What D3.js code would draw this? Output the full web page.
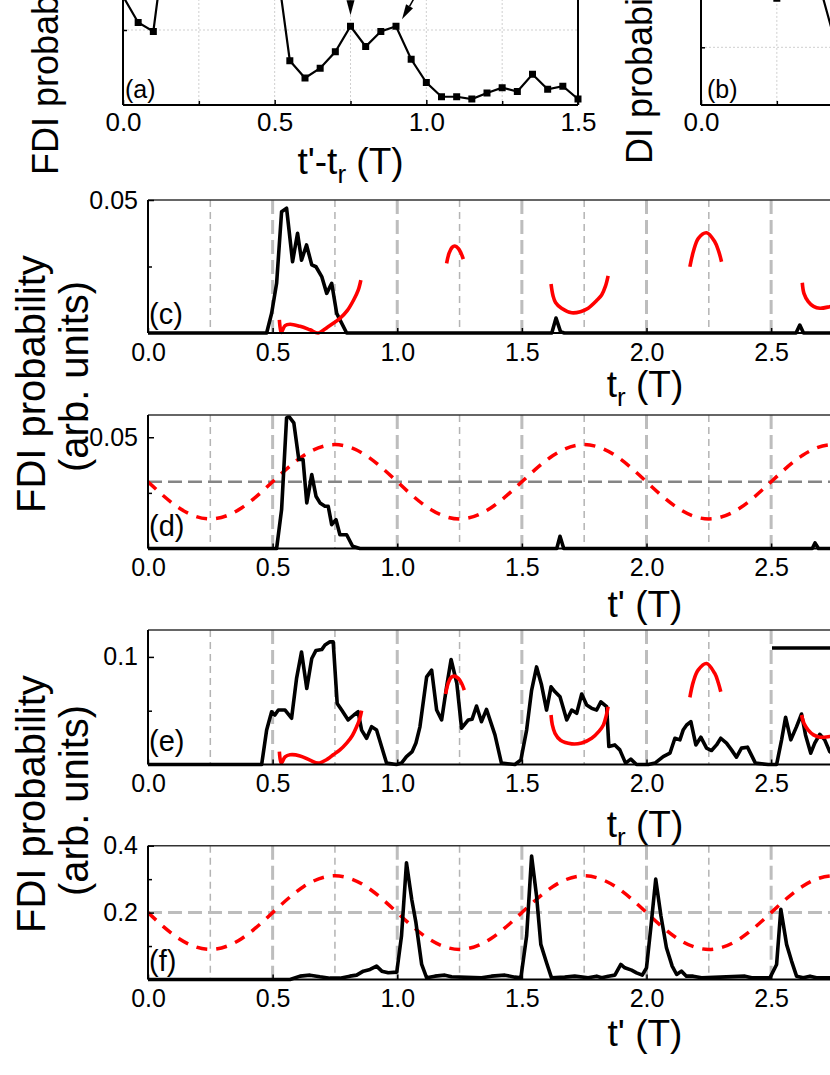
<!DOCTYPE html>
<html><head><meta charset="utf-8">
<script src="https://cdnjs.cloudflare.com/ajax/libs/d3/7.8.5/d3.min.js"></script>
<style>body{margin:0;background:#fff}svg{display:block}</style>
</head><body><script>
// ---------- DATA ----------
// panel (a): FDI probability vs t'-t_r
const aT = [0,0.05,0.1,0.15,0.2,0.25,0.3,0.35,0.4,0.45,0.5,0.55,0.6,0.65,0.7,0.75,0.8,0.85,0.9,0.95,1.0,1.05,1.1,1.15,1.2,1.25,1.3,1.35,1.4,1.45,1.5];
const aV = [0.0145,0.0110,0.0098,0.0253,0.032,0.036,0.038,0.036,0.031,0.026,0.0208,0.0059,0.0036,0.0049,0.0071,0.0105,0.0078,0.0098,0.0105,0.0061,0.0030,0.0011,0.0011,0.0008,0.0016,0.0023,0.0018,0.0041,0.0021,0.0025,0.0008];
// panel (b): DI probability (visible part only)
const bT = [0,0.05,0.1,0.15,0.2,0.25,0.3,0.35,0.4,0.45];
const bV = [0.25,0.24,0.23,0.22,0.20,0.185,0.20,0.21,0.19,0.095];
const xTickLabelsTop = [0,0.5,1.0,1.5];
const xTickLabelsBottom = [0,0.5,1.0,1.5,2.0,2.5,3.0,3.5];

// panel (c): black curve and red arcs (vs t_r)
const cBlack = [[0,0],[0.476,0],[0.496,0.0074],[0.516,0.0187],[0.536,0.0456],[0.556,0.0469],[0.580,0.0268],[0.600,0.0375],[0.616,0.0274],[0.636,0.0331],[0.657,0.0256],[0.674,0.0249],[0.697,0.0212],[0.717,0.0149],[0.737,0.0187],[0.757,0.0074],[0.797,0],[1.62,0],[1.637,0.0056],[1.655,0.0005],[1.67,0],[2.60,0],[2.615,0.003],[2.63,0],[2.8,0]];
const cRed = [
 [[0.527,0.0049],[0.531,0.0015],[0.535,0.0002],[0.55,0.0028],[0.57,0.0033],[0.61,0.0025],[0.65,0.0012],[0.683,0.0],[0.72,0.0022],[0.77,0.0055],[0.80,0.0085],[0.825,0.0124],[0.843,0.016],[0.854,0.0199]],
 [[1.198,0.0262],[1.208,0.0300],[1.22,0.0322],[1.231,0.0327],[1.245,0.0318],[1.256,0.0300],[1.265,0.0278]],
 [[1.617,0.0184],[1.625,0.0140],[1.635,0.0115],[1.659,0.0093],[1.70,0.0076],[1.735,0.0080],[1.766,0.0093],[1.80,0.0122],[1.82,0.0143],[1.835,0.0175],[1.846,0.0215]],
 [[2.174,0.0249],[2.188,0.0306],[2.208,0.0356],[2.241,0.0377],[2.274,0.0343],[2.290,0.0306],[2.301,0.0268]],
 [[2.625,0.0189],[2.632,0.0148],[2.649,0.0118],[2.67,0.0100],[2.696,0.0093],[2.735,0.0099],[2.76,0.0105]]
];
// panel (d): black curve (vs t'), laser field (red dashed), reference level
const dBlack = [[0,0],[0.516,0],[0.536,0.0175],[0.556,0.0587],[0.565,0.0594],[0.585,0.0565],[0.605,0.040],[0.622,0.040],[0.637,0.0205],[0.657,0.0332],[0.674,0.0235],[0.690,0.0205],[0.710,0.0190],[0.723,0.0190],[0.737,0.0107],[0.754,0.013],[0.770,0.0062],[0.797,0.0062],[0.821,0.001],[0.850,0],[1.64,0],[1.653,0.0055],[1.668,0],[2.665,0],[2.676,0.0025],[2.69,0],[2.8,0]];
const fieldT = [0,0.125,0.25,0.375,0.5,0.625,0.75,0.875,1.0,1.125,1.25,1.375,1.5,1.625,1.75,1.875,2.0,2.125,2.25,2.375,2.5,2.625,2.75,2.875,3.0];
const dField = [0.030,0.0182,0.0133,0.0182,0.030,0.0418,0.0467,0.0418,0.030,0.0182,0.0133,0.0182,0.030,0.0418,0.0467,0.0418,0.030,0.0182,0.0133,0.0182,0.030,0.0418,0.0467,0.0418,0.030];
const dRef = 0.03;
// panel (e)
const eBlack = [[0,0],[0.456,0],[0.476,0.032],[0.496,0.049],[0.509,0.046],[0.523,0.0506],[0.550,0.0506],[0.576,0.043],[0.596,0.080],[0.616,0.1046],[0.637,0.0707],[0.657,0.0985],[0.674,0.106],[0.697,0.1068],[0.710,0.111],[0.730,0.114],[0.743,0.114],[0.759,0.0568],[0.777,0.0506],[0.803,0.0414],[0.826,0.046],[0.843,0.049],[0.857,0.032],[0.877,0.0244],[0.897,0.0352],[0.917,0.032],[0.957,0.0013],[0.997,0],[1.017,0.0013],[1.037,0.0074],[1.060,0.012],[1.075,0.020],[1.091,0.035],[1.118,0.0815],[1.138,0.0877],[1.158,0.0506],[1.178,0.0414],[1.198,0.0722],[1.216,0.0976],[1.239,0.0754],[1.258,0.0337],[1.285,0.0414],[1.300,0.0420],[1.318,0.0543],[1.338,0.0398],[1.358,0.0513],[1.392,0.0275],[1.418,0.0013],[1.472,0],[1.496,0.0043],[1.519,0.032],[1.539,0.069],[1.559,0.0907],[1.579,0.0738],[1.599,0.0506],[1.617,0.0722],[1.633,0.0676],[1.653,0.063],[1.680,0.0414],[1.700,0.0506],[1.720,0.0476],[1.740,0.0655],[1.760,0.0553],[1.780,0.0522],[1.800,0.0506],[1.817,0.0583],[1.840,0.0537],[1.849,0.0167],[1.873,0.0182],[1.893,0.0136],[1.916,0.0013],[1.937,0.005],[1.960,0],[2.007,0],[2.034,0.0013],[2.067,0.0074],[2.094,0.0105],[2.114,0.0244],[2.134,0.0229],[2.147,0.032],[2.161,0.0367],[2.178,0.0398],[2.198,0.0182],[2.218,0.0254],[2.241,0.0152],[2.261,0.013],[2.281,0.0182],[2.298,0.0244],[2.321,0.0198],[2.341,0.0136],[2.361,0.0068],[2.381,0.0152],[2.405,0.0161],[2.437,0.0013],[2.488,0],[2.522,0],[2.542,0.0229],[2.558,0.0439],[2.579,0.0229],[2.602,0.0352],[2.622,0.0469],[2.638,0.0275],[2.659,0.0105],[2.675,0.0198],[2.695,0.0281],[2.715,0.0229],[2.735,0.012],[2.76,0.008]];
const eRed = [
 [[0.527,0.012],[0.531,0.004],[0.535,0.0013],[0.55,0.007],[0.57,0.009],[0.61,0.008],[0.65,0.004],[0.683,0.0013],[0.72,0.005],[0.743,0.009],[0.77,0.0135],[0.797,0.0198],[0.82,0.027],[0.837,0.035],[0.850,0.043],[0.857,0.050]],
 [[1.194,0.0655],[1.205,0.0760],[1.216,0.0810],[1.229,0.0821],[1.245,0.0800],[1.258,0.0755],[1.269,0.0692]],
 [[1.617,0.046],[1.622,0.037],[1.633,0.029],[1.655,0.0225],[1.70,0.0192],[1.74,0.0200],[1.78,0.0244],[1.81,0.031],[1.827,0.0367],[1.838,0.045],[1.846,0.0537]],
 [[2.174,0.0624],[2.188,0.0770],[2.207,0.0877],[2.241,0.0939],[2.274,0.0846],[2.288,0.0760],[2.298,0.0676]],
 [[2.622,0.046],[2.632,0.038],[2.649,0.032],[2.67,0.0275],[2.695,0.0254],[2.735,0.026],[2.76,0.027]]
];
// panel (f)
const fBlack = [[0,0],[0.57,0],[0.610,0.010],[0.650,0.013],[0.690,0.008],[0.730,0.004],[0.770,0.004],[0.810,0.010],[0.837,0.013],[0.864,0.025],[0.891,0.030],[0.917,0.040],[0.938,0.025],[0.964,0.020],[0.998,0.022],[1.017,0.13],[1.037,0.349],[1.058,0.24],[1.075,0.17],[1.098,0.045],[1.118,0.005],[1.151,0.010],[1.191,0.013],[1.218,0.008],[1.338,0.005],[1.378,0.010],[1.432,0.013],[1.472,0.007],[1.496,0.005],[1.519,0.13],[1.539,0.369],[1.559,0.249],[1.576,0.105],[1.599,0.05],[1.619,0.005],[1.672,0.007],[1.712,0.010],[1.766,0.005],[1.800,0.010],[1.820,0.005],[1.847,0.010],[1.873,0.013],[1.897,0.045],[1.913,0.035],[1.940,0.028],[1.960,0.020],[1.983,0.013],[2.000,0.035],[2.018,0.16],[2.037,0.30],[2.058,0.19],[2.080,0.095],[2.103,0.040],[2.121,0.015],[2.140,0.025],[2.160,0.010],[2.187,0.010],[2.221,0.005],[2.395,0.010],[2.422,0.005],[2.495,0.005],[2.522,0.045],[2.539,0.21],[2.562,0.105],[2.582,0.055],[2.602,0.010],[2.629,0.005],[2.656,0.010],[2.682,0.005],[2.76,0.005]];
const fField = [0.20,0.122,0.09,0.122,0.20,0.278,0.31,0.278,0.20,0.122,0.09,0.122,0.20,0.278,0.31,0.278,0.20,0.122,0.09,0.122,0.20,0.278,0.31,0.278,0.20];
const fRef = 0.2;

// ---------- DRAW ----------
const FONT = '"Liberation Sans", Arial, Helvetica, sans-serif';
const VIEW_W = 830;
const svg = d3.select("body").append("svg").attr("width",830).attr("height",1075)
  .style("font-family",FONT);
const defs = svg.append("defs");

function styleAxis(g, fs){
  g.select(".domain").remove();
  g.selectAll("text").attr("font-size",fs).attr("font-family",FONT).attr("fill","#000");
  g.selectAll("line").attr("stroke","#000").attr("stroke-width",1.5);
}
// keep only tick labels that fall inside the (cropped) view
const inView = (scale, vals, half) => vals.filter(v => scale(v) + half <= VIEW_W);

// ===== panels (a) and (b) =====
const xa = d3.scaleLinear().domain([0,1.5]).range([123,578]);
const ya = d3.scaleLinear().domain([0,0.01]).range([105,30]);
const xb = d3.scaleLinear().domain([0,1.5]).range([701,1156]);
const yb = d3.scaleLinear().domain([0,0.1]).range([105,47.3]);
const gridA = [0.25,0.5,0.75,1.0,1.25];
const minorA = [0.25,0.75,1.25];

function topPanel(x, y, yMax, T, V, yGrid, label, labDx, ylabel, ylabX, ylabY){
  const g = svg.append("g");
  const x0 = x.range()[0], x1 = x.range()[1], yb0 = y(0), yt = y(yMax);
  g.selectAll(".vg").data(gridA).join("line")
    .attr("x1",d=>x(d)).attr("x2",d=>x(d)).attr("y1",yt).attr("y2",yb0)
    .attr("stroke","#cfcfcf").attr("stroke-width",1).attr("stroke-dasharray","2,2");
  g.selectAll(".hg").data(yGrid).join("line")
    .attr("x1",x0).attr("x2",x1).attr("y1",d=>y(d)).attr("y2",d=>y(d))
    .attr("stroke","#cfcfcf").attr("stroke-width",1).attr("stroke-dasharray","2,2");
  const pts = T.map((t,i)=>[t,V[i]]);
  g.append("path").datum(pts)
    .attr("d",d3.line().x(d=>x(d[0])).y(d=>y(d[1])))
    .attr("fill","none").attr("stroke","#000").attr("stroke-width",2.2);
  g.selectAll(".mk").data(pts).join("rect")
    .attr("x",d=>x(d[0])-3.5).attr("y",d=>y(d[1])-3.5).attr("width",7).attr("height",7).attr("fill","#000");
  // axes frame
  g.append("line").attr("x1",x0).attr("x2",x0).attr("y1",yt).attr("y2",yb0).attr("stroke","#000").attr("stroke-width",2);
  g.append("line").attr("x1",x0).attr("x2",x1).attr("y1",yb0).attr("y2",yb0).attr("stroke","#000").attr("stroke-width",2);
  g.append("line").attr("x1",x1).attr("x2",x1).attr("y1",yt).attr("y2",yb0).attr("stroke","#000").attr("stroke-width",2);
  const ax = g.append("g").attr("transform",`translate(0,${yb0})`)
    .call(d3.axisBottom(x).tickValues(inView(x, xTickLabelsTop, 18)).tickFormat(d3.format(".1f")).tickSizeInner(-5).tickSizeOuter(0).tickPadding(8));
  styleAxis(ax,26);
  const axm = g.append("g").attr("transform",`translate(0,${yb0})`)
    .call(d3.axisBottom(x).tickValues(minorA).tickFormat("").tickSizeInner(-4).tickSizeOuter(0));
  styleAxis(axm,26);
  const ay = g.append("g").attr("transform",`translate(${x0},0)`)
    .call(d3.axisLeft(y).tickValues(yGrid).tickFormat("").tickSizeInner(-4).tickSizeOuter(0));
  styleAxis(ay,26);
  g.append("text").attr("x",x0+labDx).attr("y",98).attr("font-size",25).text(label);
  g.append("text").attr("transform",`translate(${ylabX},${ylabY}) rotate(-90)`)
    .attr("font-size",36).attr("text-anchor","start").text(ylabel);
  return g;
}
const gA = topPanel(xa, ya, 0.02, aT, aV, [0.01,0.02], "(a)", 2, "FDI probability", 58, 175);
topPanel(xb, yb, 0.3, bT, bV, [0.1,0.2], "(b)", 6, "DI probability", 652, 164);

// arrows in (a) pointing at the two marked maxima
function arrowTo(px, py, dx, dy){
  const len = Math.hypot(dx,dy), ux = dx/len, uy = dy/len;
  const hl = 15, hw = 4;
  const bx = px - ux*hl, by = py - uy*hl;
  gA.append("line").attr("x1",bx).attr("y1",by).attr("x2",px-ux*80).attr("y2",py-uy*80)
    .attr("stroke","#000").attr("stroke-width",1.5);
  gA.append("path").attr("d",`M${px},${py}L${bx-uy*hw},${by+ux*hw}L${bx+uy*hw},${by-ux*hw}Z`).attr("fill","#000");
}
arrowTo(xa(aT[15]), ya(aV[15])-11, 0, 1);
arrowTo(xa(aT[18])+6, ya(aV[18])-7, -11, 19);

// ===== panels (c)-(f) =====
const X = d3.scaleLinear().domain([0,4]).range([148,1145]);
const gridMajor = [0.5,1.0,1.5,2.0,2.5,3.0,3.5];
const gridMinor = [0.25,0.75,1.25,1.75,2.25,2.75,3.25,3.75];

const panels = [
 {id:"c", top:200, bottom:333, ymax:0.05, yt:[0.05], ym:[0.025], fmt:".2f", black:cBlack, red:cRed, lab:"(c)", labY:324, xlabel:"tr", xlabY:397},
 {id:"d", top:415, bottom:548.5, ymax:0.06, yt:[0.05], ym:[0.025], fmt:".2f", black:dBlack, field:dField, ref:dRef, refColor:"#858585", lab:"(d)", labY:536, xlabel:"tp", xlabY:617},
 {id:"e", top:630, bottom:764.5, ymax:0.125, yt:[0.1], ym:[0.05], fmt:".1f", black:eBlack, red:eRed, lab:"(e)", labY:751, xlabel:"tr", xlabY:837, legend:true},
 {id:"f", top:845.7, bottom:979.5, ymax:0.4, yt:[0.2,0.4], ym:[0.1,0.3], fmt:".1f", black:fBlack, field:fField, ref:fRef, refColor:"#bdbdbd", lab:"(f)", labY:971, xlabel:"tp", xlabY:1046}
];

panels.forEach(p=>{
  const Y = d3.scaleLinear().domain([0,p.ymax]).range([p.bottom,p.top]);
  const g = svg.append("g");
  const clipId = "clip"+p.id;
  defs.append("clipPath").attr("id",clipId).append("rect")
    .attr("x",148).attr("y",p.top).attr("width",997).attr("height",p.bottom-p.top+3);
  // grid
  g.selectAll(".gmin").data(gridMinor).join("line")
    .attr("x1",d=>X(d)).attr("x2",d=>X(d)).attr("y1",p.top).attr("y2",p.bottom)
    .attr("stroke","#b4b4b4").attr("stroke-width",1.5).attr("stroke-dasharray","7,5");
  g.selectAll(".gmaj").data(gridMajor).join("line")
    .attr("x1",d=>X(d)).attr("x2",d=>X(d)).attr("y1",p.top).attr("y2",p.bottom)
    .attr("stroke","#bdbdbd").attr("stroke-width",3).attr("stroke-dasharray","14,6");
  const plot = g.append("g").attr("clip-path",`url(#${clipId})`);
  if (p.ref !== undefined){
    plot.append("line").attr("x1",148).attr("x2",1145).attr("y1",Y(p.ref)).attr("y2",Y(p.ref))
      .attr("stroke",p.refColor).attr("stroke-width",p.id==="d"?2.5:3).attr("stroke-dasharray","14,6");
  }
  const line = d3.line().x(d=>X(d[0])).y(d=>Y(d[1]));
  if (p.field){
    const fp = fieldT.map((t,i)=>[t,p.field[i]]);
    plot.append("path").datum(fp).attr("d",d3.line().x(d=>X(d[0])).y(d=>Y(d[1])).curve(d3.curveNatural))
      .attr("fill","none").attr("stroke","#ff0000").attr("stroke-width",3.5).attr("stroke-dasharray","11,9");
  }
  plot.append("path").datum(p.black).attr("d",line)
    .attr("fill","none").attr("stroke","#000").attr("stroke-width",3.6).attr("stroke-linejoin","round");
  if (p.red){
    plot.selectAll(".arc").data(p.red).join("path")
      .attr("d",d3.line().x(d=>X(d[0])).y(d=>Y(d[1])).curve(d3.curveCatmullRom))
      .attr("fill","none").attr("stroke","#ff0000").attr("stroke-width",3.6).attr("stroke-linecap","butt");
  }
  // frame
  g.append("line").attr("x1",148).attr("x2",1145).attr("y1",p.top).attr("y2",p.top).attr("stroke","#333").attr("stroke-width",1.5);
  g.append("line").attr("x1",148).attr("x2",148).attr("y1",p.top).attr("y2",p.bottom).attr("stroke","#000").attr("stroke-width",2);
  g.append("line").attr("x1",148).attr("x2",1145).attr("y1",p.bottom).attr("y2",p.bottom).attr("stroke","#000").attr("stroke-width",2);
  // axes
  const ax = g.append("g").attr("transform",`translate(0,${p.bottom})`)
    .call(d3.axisBottom(X).tickValues(inView(X, xTickLabelsBottom, 18)).tickFormat(d3.format(".1f")).tickSizeInner(-5).tickSizeOuter(0).tickPadding(10));
  styleAxis(ax,25);
  const ay = g.append("g").attr("transform",`translate(148,0)`)
    .call(d3.axisLeft(Y).tickValues(p.yt).tickFormat(d3.format(p.fmt)).tickSizeInner(-6).tickSizeOuter(0).tickPadding(10));
  styleAxis(ay,25);
  const aym = g.append("g").attr("transform",`translate(148,0)`)
    .call(d3.axisLeft(Y).tickValues(p.ym).tickFormat("").tickSizeInner(-4).tickSizeOuter(0));
  styleAxis(aym,25);
  // panel label
  g.append("text").attr("x",149).attr("y",p.labY).attr("font-size",29).text(p.lab);
  // x title
  const t = g.append("text").attr("x",645).attr("y",p.xlabY).attr("font-size",37).attr("text-anchor","middle");
  if (p.xlabel==="tr"){
    t.append("tspan").text("t");
    t.append("tspan").attr("font-size",26).attr("dy",9).text("r");
    t.append("tspan").attr("dy",-9).text(" (T)");
  } else {
    t.append("tspan").text("t' (T)");
  }
  if (p.legend){
    g.append("line").attr("x1",772).attr("x2",860).attr("y1",648).attr("y2",648).attr("stroke","#000").attr("stroke-width",3.5);
  }
});

// x title for (a)
const ta = svg.append("text").attr("x",350.5).attr("y",174).attr("font-size",37).attr("text-anchor","middle");
ta.append("tspan").text("t'-t");
ta.append("tspan").attr("font-size",26).attr("dy",9).text("r");
ta.append("tspan").attr("dy",-9).text(" (T)");

// y titles for (c)/(d) and (e)/(f)
[[513,472],[933,896]].forEach(([y1,y2])=>{
  svg.append("text").attr("transform",`translate(45,${y1}) rotate(-90)`).attr("font-size",40).text("FDI probability");
  svg.append("text").attr("transform",`translate(88,${y2}) rotate(-90)`).attr("font-size",40).text("(arb. units)");
});
</script></body></html>
